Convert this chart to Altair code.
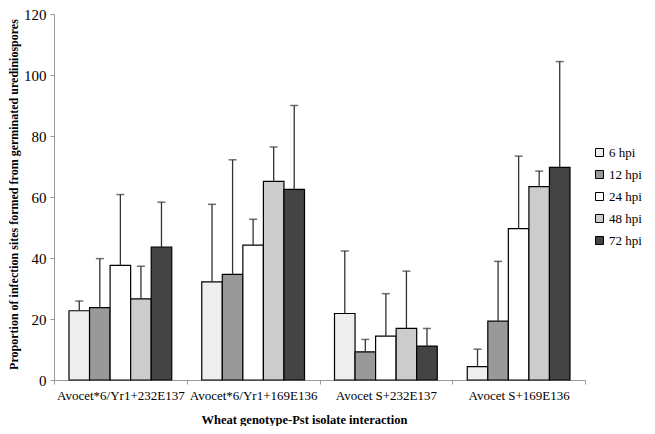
import altair as alt
import pandas as pd

groups = ["Avocet*6/Yr1+232E137", "Avocet*6/Yr1+169E136", "Avocet S+232E137", "Avocet S+169E136"]
series = ["6 hpi", "12 hpi", "24 hpi", "48 hpi", "72 hpi"]
colors = ["#eeeeee", "#999999", "#ffffff", "#cccccc", "#444444"]

# mean values per series for each group
v6 = [22.7, 32.2, 21.8, 4.4]
v12 = [23.7, 34.6, 9.2, 19.3]
v24 = [37.6, 44.2, 14.4, 49.6]
v48 = [26.6, 65.1, 16.9, 63.4]
v72 = [43.6, 62.5, 11.1, 69.7]
# upper end of error bars
e6 = [25.9, 57.6, 42.3, 10.1]
e12 = [39.8, 72.2, 13.3, 38.9]
e24 = [60.8, 52.7, 28.3, 73.4]
e48 = [37.3, 76.4, 35.7, 68.5]
e72 = [58.3, 90.0, 16.9, 104.4]

vals = [v6, v12, v24, v48, v72]
errs = [e6, e12, e24, e48, e72]
rows = []
for s, vv, ee in zip(series, vals, errs):
    for g, v, e in zip(groups, vv, ee):
        rows.append({"group": g, "series": s, "value": v, "err": e})
df = pd.DataFrame(rows)

FONT = "Liberation Serif"

x = alt.X("group:N", sort=groups, title="Wheat genotype-Pst isolate interaction",
          scale=alt.Scale(paddingInner=0, paddingOuter=0),
          axis=alt.Axis(labelAngle=0, tickBand="extent", labelFontSize=13, labelPadding=5,
                        tickSize=4, titleFontSize=12.5, titleFontWeight="bold",
                        labelFont=FONT, titleFont=FONT,
                        titleX=250, titleY=46, titleBaseline="bottom",
                        titleColor="black", labelColor="black",
                        domainColor="#999999", tickColor="#999999"))
xo = alt.XOffset("series:N", sort=series, scale=alt.Scale(paddingOuter=0.73, paddingInner=0))

base = alt.Chart(df)

bars = base.mark_bar(stroke="black", strokeWidth=1.2).encode(
    x=x,
    xOffset=xo,
    y=alt.Y("value:Q", title="Proportion of infection sites formed from germinated urediniospores",
            scale=alt.Scale(domain=[0, 120]),
            axis=alt.Axis(values=[0, 20, 40, 60, 80, 100, 120], grid=False, labelFontSize=15,
                          labelPadding=4, tickSize=4, titleFontSize=12, titleFontWeight="bold",
                          labelFont=FONT, titleFont=FONT,
                          titleX=-41, titleY=180, titleBaseline="middle",
                          titleColor="black", labelColor="black",
                          domainColor="#999999", tickColor="#999999")),
    color=alt.Color("series:N", sort=series, scale=alt.Scale(domain=series, range=colors),
                    legend=alt.Legend(title=None, orient="none", legendX=539, legendY=132,
                                      symbolType="square", symbolSize=64, symbolStrokeColor="black",
                                      symbolStrokeWidth=1, labelFontSize=13, rowPadding=8,
                                      labelFont=FONT, padding=0, labelColor="black", labelOffset=3)),
)

rules = base.mark_rule(color="#333333", strokeWidth=1.3).encode(
    x=alt.X("group:N", sort=groups),
    xOffset=xo,
    y="value:Q",
    y2="err:Q",
)

caps = base.mark_tick(color="#333333", thickness=1.5, size=8, orient="horizontal").encode(
    x=alt.X("group:N", sort=groups),
    xOffset=xo,
    y="err:Q",
)

chart = alt.layer(bars, rules, caps).properties(
    width=531, height=366,
    autosize=alt.AutoSizeParams(type="none"),
    padding={"left": 46, "top": 6, "right": 62, "bottom": 46},
).configure_view(stroke=None)

chart.save("out.html", embed_options={"renderer": "svg", "actions": False})
